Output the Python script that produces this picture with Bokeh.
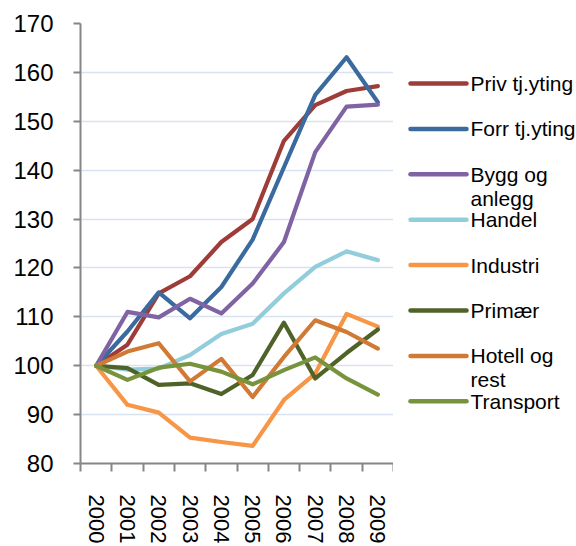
from bokeh.plotting import figure
from bokeh.layouts import row
from bokeh.models import FixedTicker, Range1d
from bokeh.core.properties import value
from bokeh.embed import file_html
from bokeh.resources import INLINE

years = [2000, 2001, 2002, 2003, 2004, 2005, 2006, 2007, 2008, 2009]
y_ticks = [80, 90, 100, 110, 120, 130, 140, 150, 160, 170]

priv_tj = [100, 104.3, 114.8, 118.3, 125.3, 130.0, 146.0, 153.3, 156.2, 157.2]
forr_tj = [100, 107.0, 115.0, 109.7, 116.1, 125.8, 140.6, 155.4, 163.1, 153.9]
bygg = [100, 111.0, 109.9, 113.7, 110.7, 116.8, 125.3, 143.7, 153.0, 153.4]
handel = [100, 99.2, 99.4, 102.2, 106.5, 108.6, 114.8, 120.2, 123.4, 121.6]
industri = [100, 92.0, 90.4, 85.3, 84.4, 83.6, 93.0, 98.4, 110.6, 108.0]
primaer = [100, 99.5, 96.1, 96.4, 94.2, 98.1, 108.8, 97.4, 102.6, 107.4]
hotell = [100, 102.9, 104.6, 96.8, 101.4, 93.6, 101.8, 109.3, 106.9, 103.5]
transport = [100, 97.1, 99.6, 100.4, 98.8, 96.2, 99.1, 101.7, 97.4, 94.1]

series_names = ["Priv tj.yting", "Forr tj.yting", "Bygg og\nanlegg", "Handel",
                "Industri", "Primær", "Hotell og\nrest", "Transport"]
series_values = [priv_tj, forr_tj, bygg, handel, industri, primaer, hotell, transport]
series_colors = ["#9E3C38", "#3A6A9E", "#7F63A2", "#92CDDC",
                 "#F79646", "#4F6228", "#D07A35", "#77933C"]

FONT = "Liberation Sans"
H = 546
FRAME_TOP, FRAME_BOTTOM = 23, 463

p = figure(width=393, height=H, output_backend="svg", toolbar_location=None,
           x_range=Range1d(years[0] - 0.5, years[-1] + 0.5),
           y_range=Range1d(y_ticks[0], y_ticks[-1]),
           min_border_left=80, min_border_right=0, min_border_top=FRAME_TOP,
           min_border_bottom=H - FRAME_BOTTOM)
p.outline_line_color = None
p.background_fill_color = "white"
p.border_fill_color = "white"

for vals, col in zip(series_values, series_colors):
    p.line(years, vals, line_color=col, line_width=4.2,
           line_join="round", line_cap="round")

# axes
p.xgrid.grid_line_color = None
p.ygrid.grid_line_color = "#D9E2F0"
p.ygrid.grid_line_width = 1.6
p.yaxis.ticker = FixedTicker(ticks=y_ticks)
p.xaxis.ticker = FixedTicker(ticks=years,
                             minor_ticks=[y - 0.5 for y in years] + [years[-1] + 0.5])

for ax in (p.xaxis[0], p.yaxis[0]):
    ax.axis_line_color = "#868686"
    ax.axis_line_width = 2
    ax.major_label_text_font = FONT
    ax.major_label_text_color = "#000000"

p.yaxis.major_label_text_font_size = "24px"
p.xaxis.major_label_text_font_size = "22px"

p.yaxis.major_tick_line_color = "#868686"
p.yaxis.major_tick_line_width = 2
p.yaxis.major_tick_out = 7
p.yaxis.major_tick_in = 0
p.yaxis.minor_tick_line_color = None
p.yaxis.major_label_standoff = 20

p.xaxis.major_tick_line_color = None
p.xaxis.major_tick_out = 0
p.xaxis.major_tick_in = 0
p.xaxis.minor_tick_line_color = "#868686"
p.xaxis.minor_tick_line_width = 2
p.xaxis.minor_tick_out = 8
p.xaxis.minor_tick_in = 0
p.xaxis.major_label_standoff = 23
p.xaxis.major_label_orientation = "vertical"

# legend panel (its frame is aligned with the chart frame by the row layout)
LW = 183
first_px, step_px = 83.0, 45.4
leg = figure(width=LW, height=H, output_backend="svg", toolbar_location=None,
             x_range=Range1d(0, LW),
             y_range=Range1d((FRAME_BOTTOM - first_px) / step_px,
                             (FRAME_TOP - first_px) / step_px),
             min_border_left=0, min_border_right=0,
             min_border_top=FRAME_TOP, min_border_bottom=H - FRAME_BOTTOM)
leg.outline_line_color = None
leg.axis.visible = False
leg.grid.visible = False
leg.background_fill_color = "white"
leg.border_fill_color = "white"

idx = list(range(len(series_names)))
leg.segment(x0=[17] * len(idx), y0=idx, x1=[73] * len(idx), y1=idx,
            line_color=series_colors, line_width=4.5, line_cap="round")

first_lines, first_y, second_lines, second_y = [], [], [], []
for i, name in enumerate(series_names):
    parts = name.split("\n")
    first_lines.append(parts[0])
    first_y.append(i)
    for k, part in enumerate(parts[1:], start=1):
        second_lines.append(part)
        second_y.append(i + 0.53 * k)

leg.text(x=[77] * len(first_lines), y=first_y, text=first_lines,
         text_font=value(FONT), text_font_size="21px", text_baseline="middle",
         text_align="left", text_color="#000000")
leg.text(x=[77] * len(second_lines), y=second_y, text=second_lines,
         text_font=value(FONT), text_font_size="21px", text_baseline="middle",
         text_align="left", text_color="#000000")

layout = row(p, leg)
open("out.html", "w").write(file_html(layout, INLINE))
